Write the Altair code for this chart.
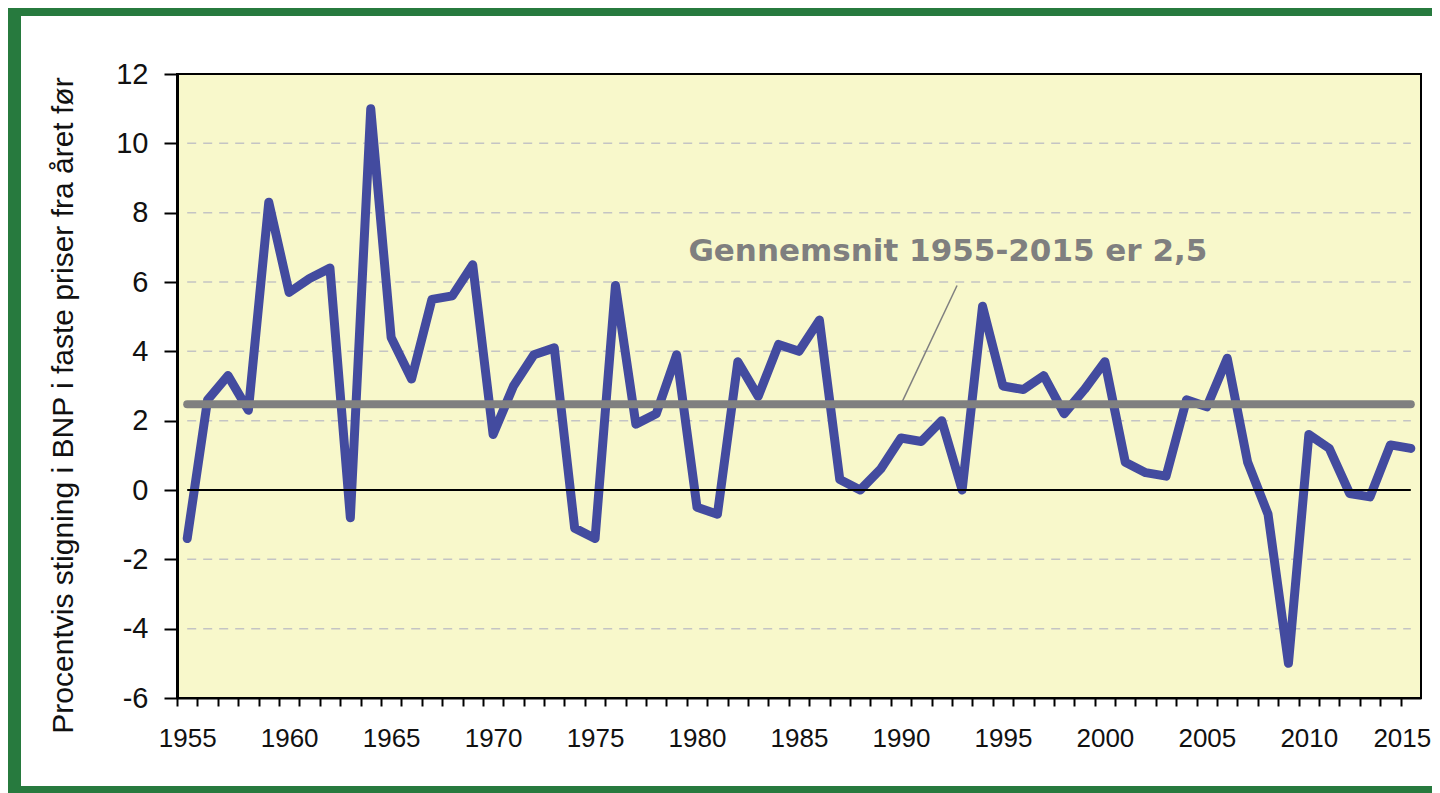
import altair as alt
import pandas as pd

# ---------------- data ----------------
years = list(range(1955, 2016))
growth = [
    -1.4, 2.6, 3.3, 2.3, 8.3, 5.7, 6.1, 6.4, -0.8, 11.0,   # 1955-1964
    4.4, 3.2, 5.5, 5.6, 6.5, 1.6, 3.0, 3.9, 4.1, -1.1,     # 1965-1974
    -1.4, 5.9, 1.9, 2.2, 3.9, -0.5, -0.7, 3.7, 2.7, 4.2,   # 1975-1984
    4.0, 4.9, 0.3, 0.0, 0.6, 1.5, 1.4, 2.0, 0.0, 5.3,      # 1985-1994
    3.0, 2.9, 3.3, 2.2, 2.9, 3.7, 0.8, 0.5, 0.4, 2.6,      # 1995-2004
    2.4, 3.8, 0.8, -0.7, -5.0, 1.6, 1.2, -0.1, -0.2, 1.3,  # 2005-2014
    1.2,                                                   # 2015
]
avg_value = 2.47
avg_label = "Gennemsnit 1955-2015 er 2,5"
y_ticks = [-6, -4, -2, 0, 2, 4, 6, 8, 10, 12]
grid_values = [-4, -2, 2, 4, 6, 8, 10]
pointer_x = [1990.0, 1992.75]
pointer_y = [2.47, 5.9]
label_x = [1992.3]
label_y = [6.6]
y_title = "Procentvis stigning i BNP i faste priser fra året før"

# ---------------- layout ----------------
W, H = 1244, 624
half = W / 61 / 2
GREEN = "#277a3e"
FONT = "Liberation Sans"

df = pd.DataFrame({"year": years, "value": growth})
grid_df = pd.DataFrame({"value": grid_values, "year": [years[0]] * len(grid_values),
                        "year2": [years[-1]] * len(grid_values)})
zero_df = pd.DataFrame({"value": [0], "year": [years[0]], "year2": [years[-1]]})
avg_df = pd.DataFrame({"value": [avg_value], "year": [years[0]], "year2": [years[-1]]})
ptr_df = pd.DataFrame({"year": pointer_x, "value": pointer_y})
lbl_df = pd.DataFrame({"year": label_x, "value": label_y, "text": [avg_label]})
one = pd.DataFrame({"k": [0]})

x_scale = alt.Scale(domain=[1954.5, 2015.5], nice=False, zero=False)
y_scale = alt.Scale(domain=[-6, 12], nice=False, zero=False)

x_axis = alt.Axis(
    values=years, title=None, grid=False,
    tickOffset=-half,
    labelOffset={"condition": {"test": "datum.value == 2015", "value": half - 9}, "value": half},
    labelExpr="datum.value % 5 == 0 ? '' + datum.value : ''",
    labelOverlap=False, labelFlush=False,
    labelFont=FONT, labelFontSize=26, labelColor="#111111", labelPadding=19,
    tickSize=8, tickWidth=2, tickColor="black",
    domainColor="black", domainWidth=2,
)
y_axis = alt.Axis(
    values=y_ticks, grid=False, title=y_title,
    labelExpr="'' + datum.value",
    labelFont=FONT, labelFontSize=29, labelColor="#111111", labelPadding=16,
    tickSize=13, tickWidth=2, tickColor="black",
    domainColor="black", domainWidth=3,
    titleFont=FONT, titleFontSize=30, titleFontWeight="normal", titleColor="#111111",
    titleAngle=270, titleX=-105, titleY=331, titleAlign="center", titleBaseline="alphabetic",
)

X = alt.X("year:Q", scale=x_scale, axis=x_axis)
Y = alt.Y("value:Q", scale=y_scale, axis=y_axis)

grid = alt.Chart(grid_df).mark_rule(color="#c4c4c4", strokeWidth=1.5, strokeDash=[9, 7]).encode(
    x=X, x2="year2:Q", y=Y)

line = alt.Chart(df).mark_line(color="#434b9f", strokeWidth=9, strokeJoin="round", strokeCap="round").encode(
    x=X, y=Y)

zero = alt.Chart(zero_df).mark_rule(color="black", strokeWidth=2).encode(x=X, x2="year2:Q", y=Y)
avg = alt.Chart(avg_df).mark_rule(color="#808080", strokeWidth=8, strokeCap="round").encode(
    x=X, x2="year2:Q", y=Y)
pointer = alt.Chart(ptr_df).mark_line(color="#808080", strokeWidth=1.5).encode(x=X, y=Y)
label = alt.Chart(lbl_df).mark_text(
    font="DejaVu Sans", fontWeight="bold", fontSize=31, color="#7f7f7f",
    align="center", baseline="alphabetic").encode(x=X, y=Y, text="text:N")

# decorative green frame (page: left 8..21, top ..16, bottom 786..)
frame_left = alt.Chart(one).mark_rect(color=GREEN).encode(
    x=alt.value(-175), x2=alt.value(-156), y=alt.value(-80), y2=alt.value(730))
frame_top = alt.Chart(one).mark_rect(color=GREEN).encode(
    x=alt.value(-175), x2=alt.value(1300), y=alt.value(-80), y2=alt.value(-58))
frame_bottom = alt.Chart(one).mark_rect(color=GREEN).encode(
    x=alt.value(-175), x2=alt.value(1300), y=alt.value(712), y2=alt.value(730))

chart = alt.layer(
    grid, line, zero, avg, pointer, label, frame_left, frame_top, frame_bottom
).properties(
    width=W, height=H,
    autosize=alt.AutoSizeParams(type="none"),
    padding={"left": 169, "top": 66, "right": 11, "bottom": 95},
    background="white",
).configure_view(
    fill="#f8f8cb", stroke="black", strokeWidth=2,
)

chart.save("out.html", embed_options={"renderer": "svg", "actions": False})
